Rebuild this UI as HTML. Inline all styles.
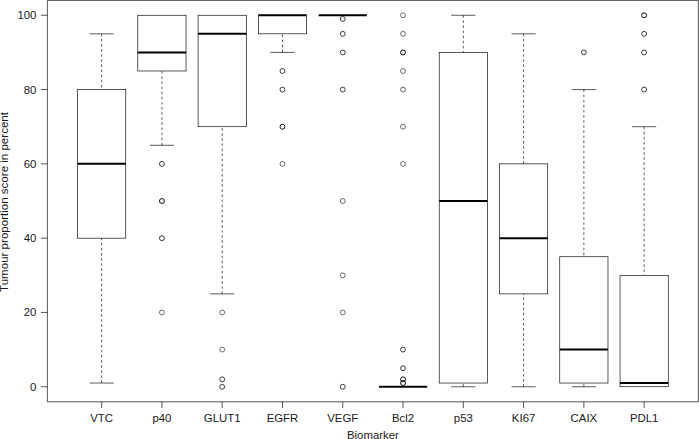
<!DOCTYPE html><html><head><meta charset="utf-8"><title>Boxplot</title><style>html,body{margin:0;padding:0;background:#fff;overflow:hidden;}svg{display:block;}text{font-family:"Liberation Sans",sans-serif;}</style></head><body>
<svg width="699" height="439" viewBox="0 0 699 439">
<rect x="0" y="0" width="699" height="439" fill="#fff"/>
<line x1="101.65" y1="33.84" x2="101.65" y2="89.57" stroke="#000" stroke-width="0.65" stroke-dasharray="2.55 2.55"/>
<line x1="101.65" y1="383.04" x2="101.65" y2="238.16" stroke="#000" stroke-width="0.65" stroke-dasharray="2.55 2.55"/>
<line x1="89.59" y1="33.84" x2="113.71" y2="33.84" stroke="#000" stroke-width="0.65"/>
<line x1="89.59" y1="383.04" x2="113.71" y2="383.04" stroke="#000" stroke-width="0.65"/>
<rect x="77.54" y="89.57" width="48.22" height="148.59" fill="none" stroke="#000" stroke-width="0.65"/>
<line x1="77.54" y1="163.86" x2="125.76" y2="163.86" stroke="#000" stroke-width="2.0"/>
<line x1="161.93" y1="145.29" x2="161.93" y2="70.99" stroke="#000" stroke-width="0.65" stroke-dasharray="2.55 2.55"/>
<line x1="149.87" y1="145.29" x2="173.98" y2="145.29" stroke="#000" stroke-width="0.65"/>
<rect x="137.82" y="15.27" width="48.22" height="55.72" fill="none" stroke="#000" stroke-width="0.65"/>
<line x1="137.82" y1="52.42" x2="186.04" y2="52.42" stroke="#000" stroke-width="2.0"/>
<circle cx="161.93" cy="163.86" r="2.45" fill="none" stroke="#000" stroke-opacity="0.8" stroke-width="0.95"/>
<circle cx="161.93" cy="201.01" r="2.45" fill="none" stroke="#000" stroke-opacity="1.0" stroke-width="0.95"/>
<circle cx="161.93" cy="238.16" r="2.45" fill="none" stroke="#000" stroke-opacity="0.8" stroke-width="0.95"/>
<circle cx="161.93" cy="312.45" r="2.45" fill="none" stroke="#000" stroke-opacity="0.6" stroke-width="0.95"/>
<line x1="222.21" y1="293.88" x2="222.21" y2="126.71" stroke="#000" stroke-width="0.65" stroke-dasharray="2.55 2.55"/>
<line x1="210.15" y1="293.88" x2="234.26" y2="293.88" stroke="#000" stroke-width="0.65"/>
<rect x="198.09" y="15.27" width="48.22" height="111.44" fill="none" stroke="#000" stroke-width="0.65"/>
<line x1="198.09" y1="33.84" x2="246.32" y2="33.84" stroke="#000" stroke-width="2.0"/>
<circle cx="222.21" cy="312.45" r="2.45" fill="none" stroke="#000" stroke-opacity="0.6" stroke-width="0.95"/>
<circle cx="222.21" cy="349.60" r="2.45" fill="none" stroke="#000" stroke-opacity="0.6" stroke-width="0.95"/>
<circle cx="222.21" cy="379.32" r="2.45" fill="none" stroke="#000" stroke-opacity="0.8" stroke-width="0.95"/>
<circle cx="222.21" cy="386.75" r="2.45" fill="none" stroke="#000" stroke-opacity="0.8" stroke-width="0.95"/>
<line x1="282.48" y1="52.42" x2="282.48" y2="33.84" stroke="#000" stroke-width="0.65" stroke-dasharray="2.55 2.55"/>
<line x1="270.43" y1="52.42" x2="294.54" y2="52.42" stroke="#000" stroke-width="0.65"/>
<rect x="258.37" y="15.27" width="48.22" height="18.57" fill="none" stroke="#000" stroke-width="0.65"/>
<line x1="258.37" y1="15.27" x2="306.59" y2="15.27" stroke="#000" stroke-width="2.0"/>
<circle cx="282.48" cy="70.99" r="2.45" fill="none" stroke="#000" stroke-opacity="0.8" stroke-width="0.95"/>
<circle cx="282.48" cy="89.57" r="2.45" fill="none" stroke="#000" stroke-opacity="0.8" stroke-width="0.95"/>
<circle cx="282.48" cy="126.71" r="2.45" fill="none" stroke="#000" stroke-opacity="1.0" stroke-width="0.95"/>
<circle cx="282.48" cy="163.86" r="2.45" fill="none" stroke="#000" stroke-opacity="0.6" stroke-width="0.95"/>
<line x1="318.65" y1="15.27" x2="366.87" y2="15.27" stroke="#000" stroke-width="2.0"/>
<circle cx="342.76" cy="18.98" r="2.45" fill="none" stroke="#000" stroke-opacity="0.8" stroke-width="0.95"/>
<circle cx="342.76" cy="33.84" r="2.45" fill="none" stroke="#000" stroke-opacity="0.8" stroke-width="0.95"/>
<circle cx="342.76" cy="52.42" r="2.45" fill="none" stroke="#000" stroke-opacity="0.8" stroke-width="0.95"/>
<circle cx="342.76" cy="89.57" r="2.45" fill="none" stroke="#000" stroke-opacity="0.8" stroke-width="0.95"/>
<circle cx="342.76" cy="201.01" r="2.45" fill="none" stroke="#000" stroke-opacity="0.6" stroke-width="0.95"/>
<circle cx="342.76" cy="275.31" r="2.45" fill="none" stroke="#000" stroke-opacity="0.6" stroke-width="0.95"/>
<circle cx="342.76" cy="312.45" r="2.45" fill="none" stroke="#000" stroke-opacity="0.6" stroke-width="0.95"/>
<circle cx="342.76" cy="386.75" r="2.45" fill="none" stroke="#000" stroke-opacity="0.8" stroke-width="0.95"/>
<line x1="378.93" y1="386.75" x2="427.15" y2="386.75" stroke="#000" stroke-width="2.0"/>
<circle cx="403.04" cy="15.27" r="2.45" fill="none" stroke="#000" stroke-opacity="0.6" stroke-width="0.95"/>
<circle cx="403.04" cy="33.84" r="2.45" fill="none" stroke="#000" stroke-opacity="0.6" stroke-width="0.95"/>
<circle cx="403.04" cy="52.42" r="2.45" fill="none" stroke="#000" stroke-opacity="1.0" stroke-width="0.95"/>
<circle cx="403.04" cy="70.99" r="2.45" fill="none" stroke="#000" stroke-opacity="0.6" stroke-width="0.95"/>
<circle cx="403.04" cy="89.57" r="2.45" fill="none" stroke="#000" stroke-opacity="0.6" stroke-width="0.95"/>
<circle cx="403.04" cy="126.71" r="2.45" fill="none" stroke="#000" stroke-opacity="0.6" stroke-width="0.95"/>
<circle cx="403.04" cy="163.86" r="2.45" fill="none" stroke="#000" stroke-opacity="0.6" stroke-width="0.95"/>
<circle cx="403.04" cy="349.60" r="2.45" fill="none" stroke="#000" stroke-opacity="0.8" stroke-width="0.95"/>
<circle cx="403.04" cy="368.18" r="2.45" fill="none" stroke="#000" stroke-opacity="0.8" stroke-width="0.95"/>
<circle cx="403.04" cy="379.32" r="2.45" fill="none" stroke="#000" stroke-opacity="1.0" stroke-width="0.95"/>
<circle cx="403.04" cy="383.04" r="2.45" fill="none" stroke="#000" stroke-opacity="1.0" stroke-width="0.95"/>
<line x1="463.32" y1="15.27" x2="463.32" y2="52.42" stroke="#000" stroke-width="0.65" stroke-dasharray="2.55 2.55"/>
<line x1="463.32" y1="386.75" x2="463.32" y2="383.04" stroke="#000" stroke-width="0.65" stroke-dasharray="2.55 2.55"/>
<line x1="451.26" y1="15.27" x2="475.37" y2="15.27" stroke="#000" stroke-width="0.65"/>
<line x1="451.26" y1="386.75" x2="475.37" y2="386.75" stroke="#000" stroke-width="0.65"/>
<rect x="439.21" y="52.42" width="48.22" height="330.62" fill="none" stroke="#000" stroke-width="0.65"/>
<line x1="439.21" y1="201.01" x2="487.43" y2="201.01" stroke="#000" stroke-width="2.0"/>
<line x1="523.59" y1="33.84" x2="523.59" y2="163.86" stroke="#000" stroke-width="0.65" stroke-dasharray="2.55 2.55"/>
<line x1="523.59" y1="386.75" x2="523.59" y2="293.88" stroke="#000" stroke-width="0.65" stroke-dasharray="2.55 2.55"/>
<line x1="511.54" y1="33.84" x2="535.65" y2="33.84" stroke="#000" stroke-width="0.65"/>
<line x1="511.54" y1="386.75" x2="535.65" y2="386.75" stroke="#000" stroke-width="0.65"/>
<rect x="499.48" y="163.86" width="48.22" height="130.02" fill="none" stroke="#000" stroke-width="0.65"/>
<line x1="499.48" y1="238.16" x2="547.71" y2="238.16" stroke="#000" stroke-width="2.0"/>
<line x1="583.87" y1="89.57" x2="583.87" y2="256.73" stroke="#000" stroke-width="0.65" stroke-dasharray="2.55 2.55"/>
<line x1="583.87" y1="386.75" x2="583.87" y2="383.04" stroke="#000" stroke-width="0.65" stroke-dasharray="2.55 2.55"/>
<line x1="571.82" y1="89.57" x2="595.93" y2="89.57" stroke="#000" stroke-width="0.65"/>
<line x1="571.82" y1="386.75" x2="595.93" y2="386.75" stroke="#000" stroke-width="0.65"/>
<rect x="559.76" y="256.73" width="48.22" height="126.30" fill="none" stroke="#000" stroke-width="0.65"/>
<line x1="559.76" y1="349.60" x2="607.98" y2="349.60" stroke="#000" stroke-width="2.0"/>
<circle cx="583.87" cy="52.42" r="2.45" fill="none" stroke="#000" stroke-opacity="0.8" stroke-width="0.95"/>
<line x1="644.15" y1="126.71" x2="644.15" y2="275.31" stroke="#000" stroke-width="0.65" stroke-dasharray="2.55 2.55"/>
<line x1="632.09" y1="126.71" x2="656.21" y2="126.71" stroke="#000" stroke-width="0.65"/>
<rect x="620.04" y="275.31" width="48.22" height="111.44" fill="none" stroke="#000" stroke-width="0.65"/>
<line x1="620.04" y1="383.04" x2="668.26" y2="383.04" stroke="#000" stroke-width="2.0"/>
<circle cx="644.15" cy="89.57" r="2.45" fill="none" stroke="#000" stroke-opacity="0.8" stroke-width="0.95"/>
<circle cx="644.15" cy="52.42" r="2.45" fill="none" stroke="#000" stroke-opacity="0.8" stroke-width="0.95"/>
<circle cx="644.15" cy="33.84" r="2.45" fill="none" stroke="#000" stroke-opacity="0.8" stroke-width="0.95"/>
<circle cx="644.15" cy="15.27" r="2.45" fill="none" stroke="#000" stroke-opacity="1.0" stroke-width="0.95"/>
<path d="M47.4 0.45 H698.4 V401.8 H47.4 Z" fill="none" stroke="#000" stroke-width="0.65"/>
<line x1="40.8" y1="386.75" x2="47.4" y2="386.75" stroke="#000" stroke-width="0.65"/>
<text transform="translate(36.40,390.75) scale(1,1.0)" font-size="11.4" fill="#1a1a1a" text-anchor="end">0</text>
<line x1="40.8" y1="312.45" x2="47.4" y2="312.45" stroke="#000" stroke-width="0.65"/>
<text transform="translate(36.40,316.45) scale(1,1.0)" font-size="11.4" fill="#1a1a1a" text-anchor="end">20</text>
<line x1="40.8" y1="238.16" x2="47.4" y2="238.16" stroke="#000" stroke-width="0.65"/>
<text transform="translate(36.40,242.16) scale(1,1.0)" font-size="11.4" fill="#1a1a1a" text-anchor="end">40</text>
<line x1="40.8" y1="163.86" x2="47.4" y2="163.86" stroke="#000" stroke-width="0.65"/>
<text transform="translate(36.40,167.86) scale(1,1.0)" font-size="11.4" fill="#1a1a1a" text-anchor="end">60</text>
<line x1="40.8" y1="89.57" x2="47.4" y2="89.57" stroke="#000" stroke-width="0.65"/>
<text transform="translate(36.40,93.57) scale(1,1.0)" font-size="11.4" fill="#1a1a1a" text-anchor="end">80</text>
<line x1="40.8" y1="15.27" x2="47.4" y2="15.27" stroke="#000" stroke-width="0.65"/>
<text transform="translate(36.40,19.27) scale(1,1.0)" font-size="11.4" fill="#1a1a1a" text-anchor="end">100</text>
<line x1="101.65" y1="401.8" x2="101.65" y2="408" stroke="#000" stroke-width="0.65"/>
<text transform="translate(101.65,421.50) scale(1,1.0)" font-size="11.4" fill="#1a1a1a" text-anchor="middle">VTC</text>
<line x1="161.93" y1="401.8" x2="161.93" y2="408" stroke="#000" stroke-width="0.65"/>
<text transform="translate(161.93,421.50) scale(1,1.0)" font-size="11.4" fill="#1a1a1a" text-anchor="middle">p40</text>
<line x1="222.21" y1="401.8" x2="222.21" y2="408" stroke="#000" stroke-width="0.65"/>
<text transform="translate(222.21,421.50) scale(1,1.0)" font-size="11.4" fill="#1a1a1a" text-anchor="middle">GLUT1</text>
<line x1="282.48" y1="401.8" x2="282.48" y2="408" stroke="#000" stroke-width="0.65"/>
<text transform="translate(282.48,421.50) scale(1,1.0)" font-size="11.4" fill="#1a1a1a" text-anchor="middle">EGFR</text>
<line x1="342.76" y1="401.8" x2="342.76" y2="408" stroke="#000" stroke-width="0.65"/>
<text transform="translate(342.76,421.50) scale(1,1.0)" font-size="11.4" fill="#1a1a1a" text-anchor="middle">VEGF</text>
<line x1="403.04" y1="401.8" x2="403.04" y2="408" stroke="#000" stroke-width="0.65"/>
<text transform="translate(403.04,421.50) scale(1,1.0)" font-size="11.4" fill="#1a1a1a" text-anchor="middle">Bcl2</text>
<line x1="463.32" y1="401.8" x2="463.32" y2="408" stroke="#000" stroke-width="0.65"/>
<text transform="translate(463.32,421.50) scale(1,1.0)" font-size="11.4" fill="#1a1a1a" text-anchor="middle">p53</text>
<line x1="523.59" y1="401.8" x2="523.59" y2="408" stroke="#000" stroke-width="0.65"/>
<text transform="translate(523.59,421.50) scale(1,1.0)" font-size="11.4" fill="#1a1a1a" text-anchor="middle">KI67</text>
<line x1="583.87" y1="401.8" x2="583.87" y2="408" stroke="#000" stroke-width="0.65"/>
<text transform="translate(583.87,421.50) scale(1,1.0)" font-size="11.4" fill="#1a1a1a" text-anchor="middle">CAIX</text>
<line x1="644.15" y1="401.8" x2="644.15" y2="408" stroke="#000" stroke-width="0.65"/>
<text transform="translate(644.15,421.50) scale(1,1.0)" font-size="11.4" fill="#1a1a1a" text-anchor="middle">PDL1</text>
<text transform="translate(372.90,438.90) scale(1,1.0)" font-size="11.4" fill="#1a1a1a" text-anchor="middle">Biomarker</text>
<text transform="translate(8.4,202.0) rotate(-90)" x="0" y="0" font-size="11.55" fill="#1a1a1a" text-anchor="middle">Tumour proportion score in percent</text>
</svg></body></html>
